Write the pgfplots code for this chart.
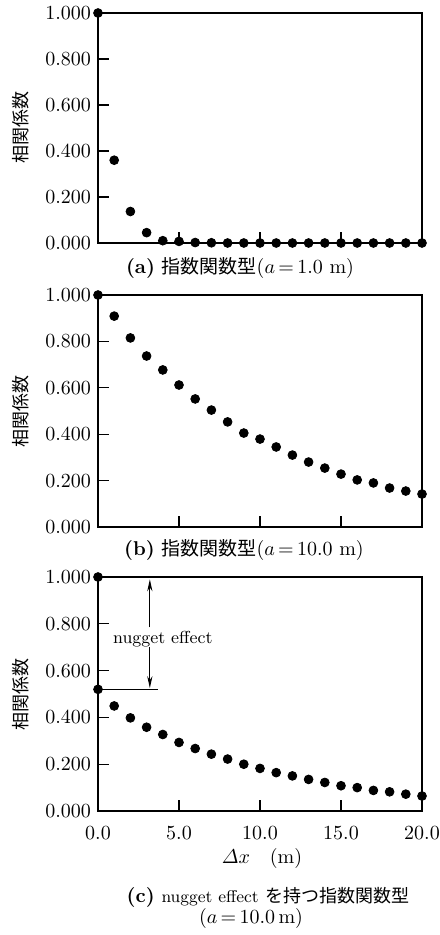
\documentclass[border=0pt]{standalone}
\usepackage{amsmath}
\usepackage{fontspec}
\usepackage{pgfplots}
\pgfplotsset{compat=1.18}
\usetikzlibrary{arrows.meta}
\newfontfamily\cjk{Noto Sans CJK JP}

\pgfplotsset{panel/.style={
  scale only axis, width=162pt, anchor=south west,
  xmin=0, xmax=20, ymin=0, ymax=1, clip=false,
  axis line style={line width=0.9pt, black},
  tick align=inside, xtick pos=bottom, ytick pos=left,
  major tick length=5.5pt, tick style={black, line width=0.6pt},
  xtick={0,5,10,15,20}, ytick={0,0.2,0.4,0.6,0.8,1},
  yticklabels={0.000,0.200,0.400,0.600,0.800,1.000},
  xticklabels={{},{},{},{},{}},
}}
\pgfplotsset{dots/.style={only marks, mark=*, mark size=2.2pt, black}}

\begin{document}
\begin{tikzpicture}
\useasboundingbox (0,0) rectangle (219.5pt,-467.5pt);

% panel (a)
\begin{axis}[panel, height=115pt, at={(49pt,-121.5pt)}]
\addplot[dots] coordinates {
(0,1.000) (1,0.360) (2,0.137) (3,0.045) (4,0.010) (5,0.007) (6,0.002) (7,0.001)
(8,0.000) (9,0.000) (10,0.000) (11,0.000) (12,0.000) (13,0.000) (14,0.000)
(15,0.000) (16,0.000) (17,0.000) (18,0.000) (19,0.000) (20,0.000)};
\end{axis}

% panel (b)
\begin{axis}[panel, height=116pt, at={(49pt,-263.5pt)}]
\addplot[dots] coordinates {
(0,1.000) (1,0.909) (2,0.815) (3,0.737) (4,0.677) (5,0.612) (6,0.552) (7,0.504)
(8,0.453) (9,0.405) (10,0.379) (11,0.345) (12,0.310) (13,0.280) (14,0.254)
(15,0.228) (16,0.203) (17,0.190) (18,0.168) (19,0.155) (20,0.142)};
\end{axis}

% panel (c)
\begin{axis}[panel, height=117pt, at={(49pt,-405.5pt)},
  xticklabels={0.0,5.0,10.0,15.0,20.0},
  xticklabel style={yshift=-4pt}]
\addplot[dots] coordinates {
(0,1.000) (0,0.520) (1,0.449) (2,0.398) (3,0.358) (4,0.327) (5,0.293) (6,0.267)
(7,0.243) (8,0.222) (9,0.200) (10,0.182) (11,0.164) (12,0.150) (13,0.135)
(14,0.122) (15,0.108) (16,0.100) (17,0.088) (18,0.082) (19,0.072) (20,0.064)};
\draw[line width=0.6pt] (axis cs:0,0.52) -- (axis cs:3.7,0.52);
\draw[line width=0.5pt, -{Stealth[length=6pt,width=2.6pt]}] (axis cs:3.2,0.785) -- (axis cs:3.2,0.99);
\draw[line width=0.5pt, -{Stealth[length=6pt,width=2.6pt]}] (axis cs:3.2,0.70) -- (axis cs:3.2,0.525);
\node[font=\fontsize{8.7}{10}\selectfont] at (axis cs:4.0,0.735) {nugget effect};
\end{axis}

% y labels
\node[rotate=90, font=\cjk\fontsize{9}{10}\selectfont] at (10.5pt,-64pt) {相関係数};
\node[rotate=90, font=\cjk\fontsize{9}{10}\selectfont] at (10.5pt,-205.5pt) {相関係数};
\node[rotate=90, font=\cjk\fontsize{9}{10}\selectfont] at (10.5pt,-347pt) {相関係数};

% captions
\node at (120pt,-134pt) {{\bfseries (a)}\ {\cjk\fontsize{9.5}{11}\selectfont 指数関数型}($a$\,=\,1.0 m)};
\node at (122pt,-275pt) {{\bfseries (b)}\ {\cjk\fontsize{9.5}{11}\selectfont 指数関数型}($a$\,=\,10.0 m)};
\node at (131pt,-429pt) {$\varDelta x$\quad (m)};
\node at (134pt,-448.5pt) {{\bfseries (c)}\ {\fontsize{8.5}{10}\selectfont nugget effect} {\cjk\fontsize{9}{10}\selectfont を持つ指数関数型}};
\node at (125.5pt,-459pt) {($a$\,=\,10.0\,m)};
\end{tikzpicture}
\end{document}
